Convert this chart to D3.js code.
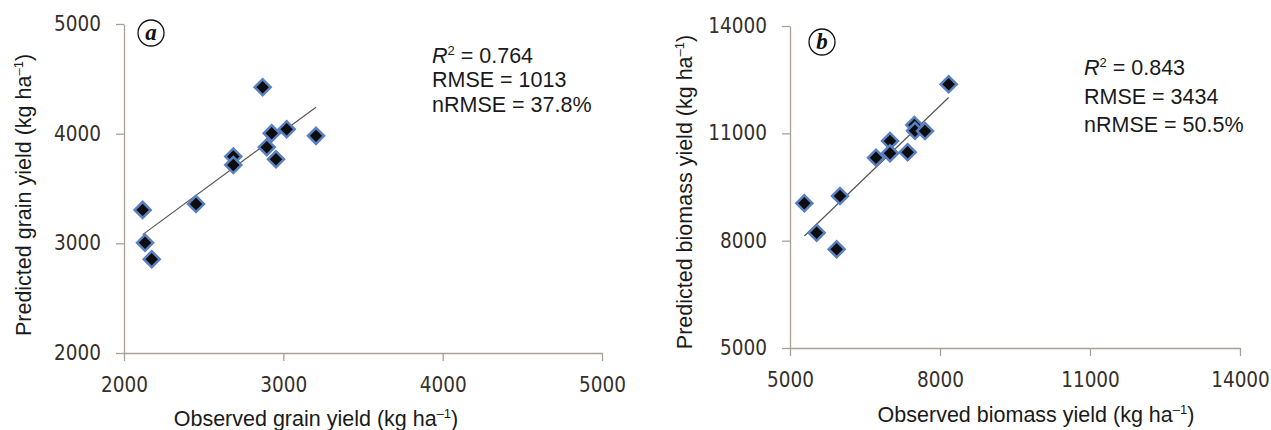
<!DOCTYPE html>
<html>
<head>
<meta charset="utf-8">
<script src="https://cdn.jsdelivr.net/npm/d3@7"></script>
<style>
  html, body { margin: 0; padding: 0; background: #fff; }
  svg { display: block; }
</style>
</head>
<body>
<svg id="chart" width="1271" height="430"></svg>
<script>
// ---- Panel (a): grain yield ----
const grainObserved  = [2117, 2132, 2174, 2452, 2686, 2686, 2870, 2896, 2927, 2954, 3021, 3205];
const grainPredicted = [3305, 3006, 2855, 3359, 3791, 3715, 4424, 3877, 4004, 3767, 4041, 3980];
const grainTicks = [2000, 3000, 4000, 5000];
const grainStats = ["0.764", "1013", "37.8%"];

// ---- Panel (b): biomass yield ----
const biomassObserved  = [5287, 5533, 5933, 6000, 6720, 7000, 7000, 7353, 7487, 7500, 7700, 8173];
const biomassPredicted = [9044, 8223, 7758, 9248, 10319, 10785, 10441, 10469, 11233, 11074, 11065, 12370];
const biomassTicks = [5000, 8000, 11000, 14000];
const biomassStats = ["0.843", "3434", "50.5%"];

const svg = d3.select("#chart");
const AXIS_COLOR = "#a8a19a";
const TICK_TEXT = "#352f2a";
const SANS = "'Liberation Sans', Arial, sans-serif";
const TICKFONT = "'DejaVu Sans Condensed', 'DejaVu Sans', sans-serif";

function fit(xs, ys) {
  const mx = d3.mean(xs), my = d3.mean(ys);
  let sxy = 0, sxx = 0;
  xs.forEach((x, i) => { sxy += (x - mx) * (ys[i] - my); sxx += (x - mx) * (x - mx); });
  const b = sxy / sxx;
  return { b, a: my - b * mx };
}

function panel(cfg) {
  const g = svg.append("g");
  const x = d3.scaleLinear().domain(cfg.domain).range(cfg.xr);
  const y = d3.scaleLinear().domain(cfg.domain).range(cfg.yr);

  const xAxis = g.append("g").attr("transform", `translate(0,${cfg.yr[0]})`)
    .call(d3.axisBottom(x).tickValues(cfg.ticks).tickSize(8).tickSizeOuter(0).tickPadding(16).tickFormat(d3.format("d")));
  const yAxis = g.append("g").attr("transform", `translate(${cfg.xr[0]},0)`)
    .call(d3.axisLeft(y).tickValues(cfg.ticks).tickSize(8).tickSizeOuter(0).tickPadding(15).tickFormat(d3.format("d")));
  [xAxis, yAxis].forEach(ax => {
    ax.select(".domain").attr("stroke", AXIS_COLOR).attr("stroke-width", 1.3);
    ax.selectAll(".tick line").attr("stroke", AXIS_COLOR).attr("stroke-width", 1.3);
    ax.selectAll(".tick text").attr("fill", TICK_TEXT)
      .style("font-family", TICKFONT).style("font-stretch", "condensed").style("font-size", "20.5px");
  });

  // trend line (least squares)
  const f = fit(cfg.xs, cfg.ys);
  const x0 = d3.min(cfg.xs), x1 = d3.max(cfg.xs);
  g.append("line")
    .attr("x1", x(x0)).attr("y1", y(f.a + f.b * x0))
    .attr("x2", x(x1)).attr("y2", y(f.a + f.b * x1))
    .attr("stroke", "#555").attr("stroke-width", 1.2);

  // diamonds
  const sym = d3.symbol().type(d3.symbolSquare).size(128);
  g.selectAll("path.pt").data(cfg.xs.map((v, i) => [v, cfg.ys[i]])).join("path")
    .attr("class", "pt")
    .attr("d", sym)
    .attr("transform", d => `translate(${x(d[0])},${y(d[1])}) rotate(45)`)
    .attr("fill", "#0d0d0d")
    .attr("stroke", "#5a80c2")
    .attr("stroke-width", 2.5);

  // panel letter
  g.append("circle").attr("cx", cfg.lab[0]).attr("cy", cfg.lab[1]).attr("r", 13)
    .attr("fill", "none").attr("stroke", "#111").attr("stroke-width", 1.3);
  g.append("text").attr("x", cfg.lab[0]).attr("y", cfg.lab[1] + 7)
    .attr("text-anchor", "middle")
    .style("font-family", "'Liberation Serif', 'Times New Roman', serif")
    .style("font-style", "italic").style("font-weight", "bold").style("font-size", "23px")
    .attr("fill", "#111").text(cfg.letter);

  // stats
  const st = g.append("g").style("font-family", SANS).style("font-size", "21.5px").attr("fill", "#1a1a1a");
  const t1 = st.append("text").attr("x", cfg.stat[0]).attr("y", cfg.statY[0]);
  t1.append("tspan").style("font-style", "italic").text("R");
  t1.append("tspan").attr("dy", -8).style("font-size", "13px").text("2");
  t1.append("tspan").attr("dy", 8).text(" = " + cfg.stats[0]);
  st.append("text").attr("x", cfg.stat[0]).attr("y", cfg.statY[1]).text("RMSE = " + cfg.stats[1]);
  st.append("text").attr("x", cfg.stat[0]).attr("y", cfg.statY[2]).text("nRMSE = " + cfg.stats[2]);

  // axis titles
  function title(sel, main) {
    sel.append("tspan").text(main + " (kg ha");
    sel.append("tspan").attr("dy", -8).style("font-size", "13px").text("\u2013" + "1");
    sel.append("tspan").attr("dy", 8).text(")");
  }
  const xt = g.append("text").attr("x", cfg.xTitle[0]).attr("y", cfg.xTitle[1])
    .attr("text-anchor", "middle").style("font-family", SANS).style("font-size", "21.5px").attr("fill", "#1a1a1a");
  title(xt, cfg.xLabel);
  const yt = g.append("text")
    .attr("transform", `translate(${cfg.yTitle[0]},${cfg.yTitle[1]}) rotate(-90)`)
    .attr("text-anchor", "middle").style("font-family", SANS).style("font-size", "21.5px").attr("fill", "#1a1a1a");
  title(yt, cfg.yLabel);
}

panel({
  domain: [2000, 5000], xr: [124, 602], yr: [353, 24], ticks: grainTicks,
  xs: grainObserved, ys: grainPredicted,
  lab: [151, 33], letter: "a",
  stat: [432, 0], statY: [63, 87, 112], stats: grainStats,
  xTitle: [316, 426], xLabel: "Observed grain yield",
  yTitle: [31, 195], yLabel: "Predicted grain yield"
});

panel({
  domain: [5000, 14000], xr: [790, 1240], yr: [348, 26], ticks: biomassTicks,
  xs: biomassObserved, ys: biomassPredicted,
  lab: [822, 42], letter: "b",
  stat: [1084, 0], statY: [75, 104, 132], stats: biomassStats,
  xTitle: [1036, 422], xLabel: "Observed biomass yield",
  yTitle: [692, 192], yLabel: "Predicted biomass yield"
});
</script>
</body>
</html>
